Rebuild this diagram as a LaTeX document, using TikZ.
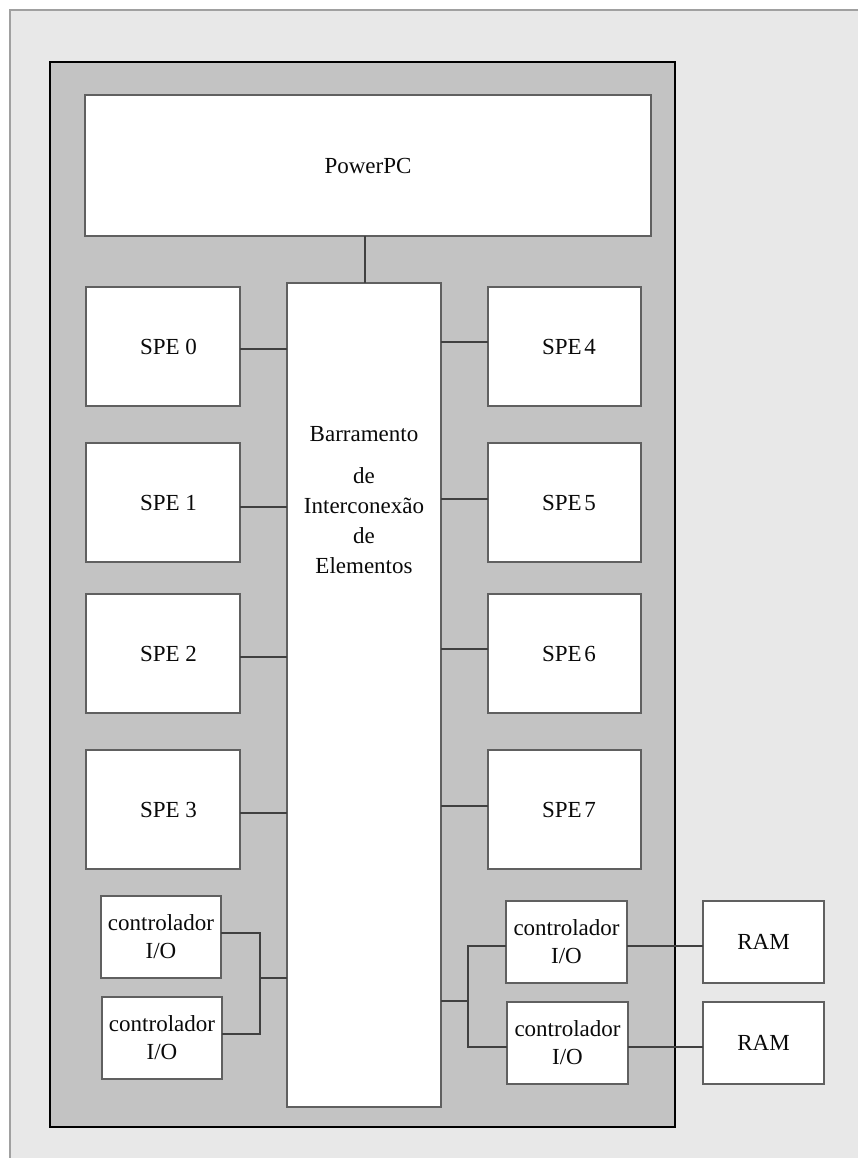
\documentclass[tikz,border=0pt]{standalone}
\usepackage{fontspec}
\setmainfont{Liberation Serif}
\definecolor{outerbg}{HTML}{E8E8E8}
\definecolor{outerln}{HTML}{A0A0A0}
\definecolor{innerbg}{HTML}{C3C3C3}
\definecolor{boxln}{HTML}{606060}
\definecolor{wireln}{HTML}{404040}
\definecolor{txt}{HTML}{0A0A0A}
\begin{document}
\begin{tikzpicture}[x=1pt,y=-1pt,
  box/.style={draw=boxln, fill=white, line width=1.3pt, outer sep=0pt, inner sep=0pt,
    text=txt, font=\fontsize{23}{28}\selectfont, align=center},
  spebox/.style={box, minimum width=154pt, minimum height=119pt},
  iobox/.style={box, minimum width=120pt, minimum height=82pt},
  wire/.style={draw=wireln, line width=1.2pt}]
\useasboundingbox (0,0) rectangle (858,1158);
% outer panel
\fill[outerbg] (10,10) rectangle (858,1158);
\draw[outerln, line width=1.3pt] (10,1158) -- (10,10) -- (858,10);
% chip area
\draw[fill=innerbg, draw=black, line width=2.4pt] (50,62) rectangle (675,1127);
% boxes
\node[box, minimum width=566pt, minimum height=141pt] (ppc) at (368,165.5) {\raisebox{-1pt}{PowerPC}};
\node[box, minimum width=154pt, minimum height=824pt] (bus) at (364,695) {};
\node[text=txt, font=\fontsize{23}{30}\selectfont, align=center, anchor=north, inner sep=0pt] (bustext) at (364,426)
  {Barramento\\[12pt]de\\Interconexão\\de\\Elementos};
\node[spebox] (spe0) at (163,346.5) {\hspace*{11pt}\raisebox{-2pt}{SPE 0}};
\node[spebox] (spe1) at (163,502.5) {\hspace*{11pt}\raisebox{-2pt}{SPE 1}};
\node[spebox] (spe2) at (163,653.5) {\hspace*{11pt}\raisebox{-2pt}{SPE 2}};
\node[spebox] (spe3) at (163,809.5) {\hspace*{11pt}\raisebox{-2pt}{SPE 3}};
\node[spebox, minimum width=153pt] (spe4) at (564.5,346.5) {\hspace*{9pt}\raisebox{-2pt}{SPE\hspace{0.12em}4}};
\node[spebox, minimum width=153pt] (spe5) at (564.5,502.5) {\hspace*{9pt}\raisebox{-2pt}{SPE\hspace{0.12em}5}};
\node[spebox, minimum width=153pt] (spe6) at (564.5,653.5) {\hspace*{9pt}\raisebox{-2pt}{SPE\hspace{0.12em}6}};
\node[spebox, minimum width=153pt] (spe7) at (564.5,809.5) {\hspace*{9pt}\raisebox{-2pt}{SPE\hspace{0.12em}7}};
\node[iobox] (iol1) at (161,937) {controlador\\I/O};
\node[iobox] (iol2) at (162,1038) {controlador\\I/O};
\node[iobox, minimum width=121pt] (ior1) at (566.5,942) {controlador\\I/O};
\node[iobox, minimum width=121pt] (ior2) at (567.5,1043) {controlador\\I/O};
\node[iobox, minimum width=121pt] (ram1) at (763.5,942) {\raisebox{-1.5pt}{RAM}};
\node[iobox, minimum width=121pt] (ram2) at (763.5,1043) {\raisebox{-1.5pt}{RAM}};
% connectors
\draw[wire] (ppc.south -| 365,0) -- (bus.north -| 365,0);
\draw[wire] (spe0.east |- 0,349) -- (bus.west |- 0,349);
\draw[wire] (spe1.east |- 0,507) -- (bus.west |- 0,507);
\draw[wire] (spe2.east |- 0,657) -- (bus.west |- 0,657);
\draw[wire] (spe3.east |- 0,813) -- (bus.west |- 0,813);
\draw[wire] (spe4.west |- 0,342) -- (bus.east |- 0,342);
\draw[wire] (spe5.west |- 0,499) -- (bus.east |- 0,499);
\draw[wire] (spe6.west |- 0,649) -- (bus.east |- 0,649);
\draw[wire] (spe7.west |- 0,806) -- (bus.east |- 0,806);
\coordinate (jl) at (260,978);
\draw[wire] (iol1.east |- 0,933) -| (jl) |- (iol2.east |- 0,1034);
\draw[wire] (jl) -- (bus.west |- jl);
\coordinate (jr) at (468,1001);
\draw[wire] (bus.east |- jr) -- (jr);
\draw[wire] (ior1.west |- 0,946) -| (jr) |- (ior2.west |- 0,1047);
\draw[wire] (ior1.east |- 0,946) -- (ram1.west |- 0,946);
\draw[wire] (ior2.east |- 0,1047) -- (ram2.west |- 0,1047);
\end{tikzpicture}
\end{document}
